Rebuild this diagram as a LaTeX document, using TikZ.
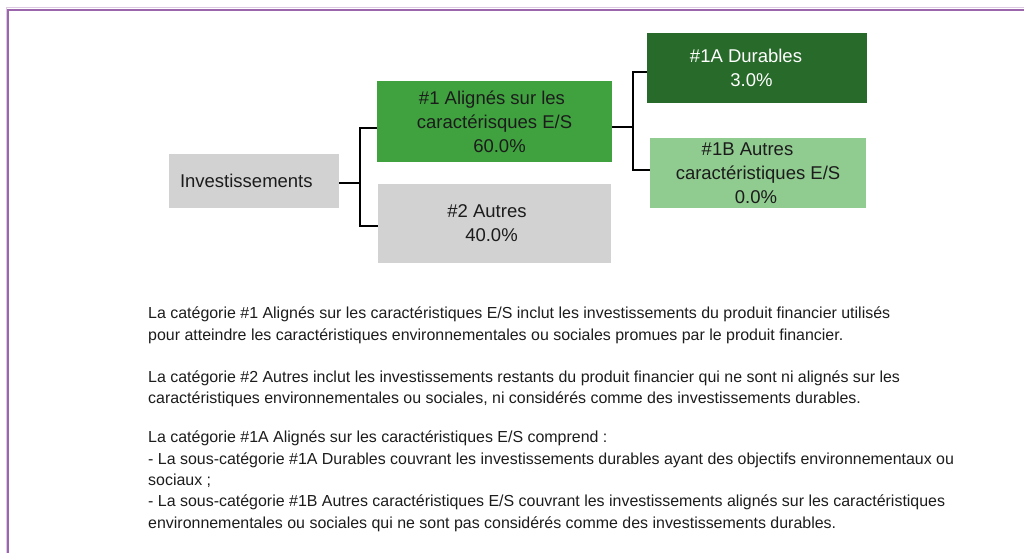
\documentclass[tikz,border=0pt]{standalone}
\usepackage{fontspec}
\setmainfont{Liberation Sans}
\definecolor{frame}{HTML}{9B66AB}
\definecolor{boxgray}{HTML}{D2D2D2}
\definecolor{midgreen}{HTML}{3FA23F}
\definecolor{darkgreen}{HTML}{276A29}
\definecolor{lightgreen}{HTML}{90CB90}
\definecolor{txt}{HTML}{1C1C1C}
\newcommand{\padr}[1]{\hspace*{#1pt}}
\tikzset{
    every node/.style={inner sep=0pt, text=txt,
    	font=\fontsize{18.5}{24}\selectfont}
}
\tikzset{
    box/.style={rectangle, align=center},
    para/.style={anchor=base west, align=left,
    	font=\fontsize{15.95}{21.3}\selectfont}
}
\tikzset{
	link/.style={line width=2pt, black}
}

\begin{document}
\begin{tikzpicture}[x=1pt,y=-1pt]
	\useasboundingbox (0,0) rectangle (1024,553);
	\draw [frame!35, line width=1pt] (6,553) -- (6,8) -- (1024,8);
	\draw [frame, line width=2pt] (8,553) -- (8,10) -- (1024,10);

	\node (inv) [box, fill=boxgray, minimum width=170pt, minimum height=54pt,
		text width=148pt, align=left] at (254,181) {Investissements};
	\node (c1) [box, fill=midgreen, minimum width=235pt, minimum height=81pt]
		at (494.5,121.5) {\#1 Alignés sur les\padr{5}\\caractérisques E/S\padr{5}\\\padr{10}60.0\%};
	\node (c2) [box, fill=boxgray, minimum width=233pt, minimum height=79pt]
		at (494.5,223.5) {\#2 Autres\padr{15}\\40.0\%\padr{6}};
	\node (c1a) [box, fill=darkgreen, text=white, minimum width=220pt,
		minimum height=70pt] at (757,68) {\#1A Durables\padr{22}\\3.0\%\padr{11}};
	\node (c1b) [box, fill=lightgreen, minimum width=216pt, minimum height=70pt]
		at (758,173) {\#1B Autres\padr{21}\\caractéristiques E/S\padr{23}\\0.0\%\padr{4}};

	\coordinate (j1) at (360,183);
	\coordinate (e1) at (377,128);
	\coordinate (e2) at (378,226);
	\coordinate (j2) at (633,127);
	\coordinate (e1a) at (647,72);
	\coordinate (e1b) at (650,170);
	\draw [link] (inv.east |- j1) -- (j1);
	\draw [link] (e1) -| (j1) |- (e2);
	\draw [link] (c1.east |- j2) -- (j2);
	\draw [link] (e1a) -| (j2) |- (e1b);

	\node (p1) [para] at (148,340) {La catégorie \#1 Alignés sur les caractéristiques E/S inclut les investissements du produit financier utilisés\\
		pour atteindre les caractéristiques environnementales ou sociales promues par le produit financier.};
	\node (p2) [para] at (148,403.5) {La catégorie \#2 Autres inclut les investissements restants du produit financier qui ne sont ni alignés sur les\\
		caractéristiques environnementales ou sociales, ni considérés comme des investissements durables.};
	\node (p3) [para] at (148,528) {La catégorie \#1A Alignés sur les caractéristiques E/S comprend :\\
		- La sous-catégorie \#1A Durables couvrant les investissements durables ayant des objectifs environnementaux ou\\
		sociaux ;\\
		- La sous-catégorie \#1B Autres caractéristiques E/S couvrant les investissements alignés sur les caractéristiques\\
		environnementales ou sociales qui ne sont pas considérés comme des investissements durables.};
\end{tikzpicture}
\end{document}
